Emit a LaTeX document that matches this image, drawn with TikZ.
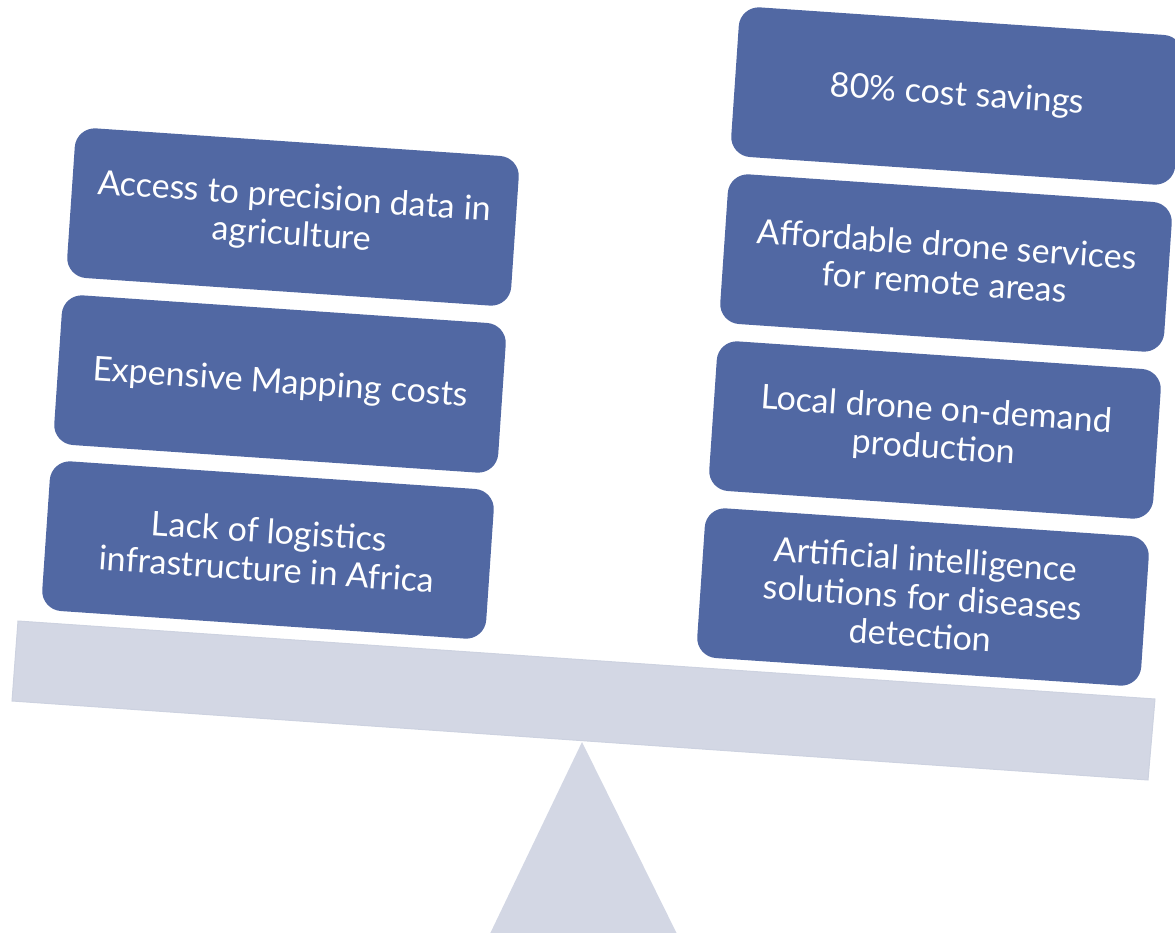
\documentclass[tikz,border=0pt]{standalone}
\usepackage{fontspec}
\setmainfont{Lato}
\definecolor{boxblue}{HTML}{5168A3}
\definecolor{beamgray}{HTML}{D3D7E4}
\definecolor{beamedge}{HTML}{CDD2E0}

\begin{document}
\begin{tikzpicture}[x=1pt, y=1pt]
        \tikzstyle{item}=[rectangle,rounded corners=20pt,fill=boxblue,text=white,minimum width=445pt,minimum height=150pt,inner sep=0pt,align=center,rotate=-3.9,font=\fontsize{34}{38}\selectfont]
        \tikzstyle{beam}=[fill=beamgray,draw=beamedge,line width=1pt]

        \useasboundingbox (0,0) rectangle (1175,-933);

        % the balance
        \fill[beamgray] (582,-742) -- (680,-940) -- (487,-940) -- cycle;
        \draw[beam] (18,-621) -- (1155,-699) -- (1148,-780) -- (12,-701) -- cycle;

        % left side
        \node[item] (L_1) at (293,-217) {Access to precision data in\\agriculture};
        \node[item] (L_2) at (280,-384) {Expensive Mapping costs};
        \node[item] (L_3) at (268,-550) {Lack of logistics\\infrastructure in Africa};

        % right side
        \node[item] (R_1) at (957,-96)  {80\% cost savings};
        \node[item] (R_2) at (946,-263) {Affordable drone services\\for remote areas};
        \node[item] (R_3) at (935,-430) {Local drone on-demand\\production};
        \node[item] (R_4) at (923,-597) {Artificial intelligence\\solutions for diseases\\detection};
    \end{tikzpicture}
\end{document}
